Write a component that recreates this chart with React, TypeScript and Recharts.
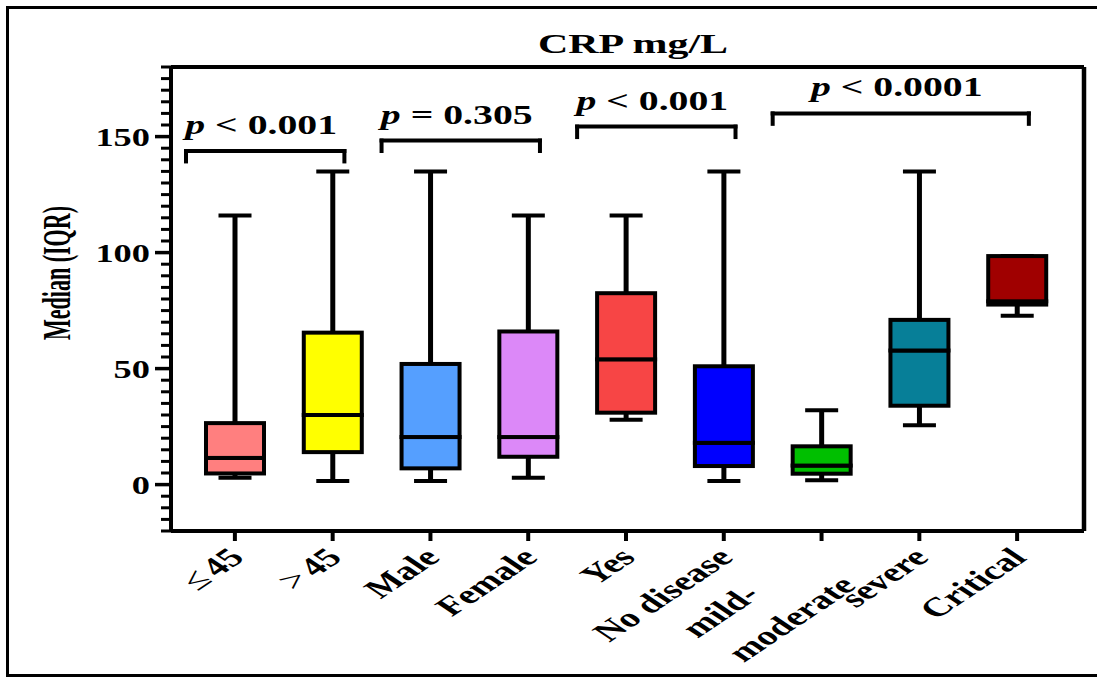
import React from 'react';
import { BarChart, Bar, XAxis, YAxis, ReferenceLine } from 'recharts';

const FONT = '"Liberation Serif", "Times New Roman", Times, serif';
const SX = 1.5;

// box plot values per group
const categories = ['≤45', '>45', 'Male', 'Female', 'Yes', 'No disease', 'mild-moderate', 'severe', 'Critical'];
const minValues = [3, 1.5, 1.5, 3, 28, 1.5, 1.9, 25.6, 72.8];
const q1Values = [4.8, 14, 7, 12, 31, 8, 4.7, 34, 77.6];
const medianValues = [11.5, 30, 20.5, 20.5, 54, 18, 8.2, 57.8, 79];
const q3Values = [26.5, 65.5, 52, 66, 82.5, 51, 16.5, 71, 98.5];
const maxValues = [116, 135, 135, 116, 116, 135, 32, 135, 98.5];
const boxColors = ['#FF7F7F', '#FFFF00', '#559FFF', '#DC88F8', '#F74545', '#0000FF', '#00BF00', '#077F98', '#A00000'];

const yTicks = [
	-20, -15, -10, -5, 0, 5, 10, 15, 20, 25, 30, 35, 40, 45, 50, 55, 60, 65, 70, 75, 80, 85, 90, 95, 100,
	105, 110, 115, 120, 125, 130, 135, 140, 145, 150, 155, 160, 165, 170, 175, 180,
];
const yMajorTicks = [0, 50, 100, 150];

// significance brackets (group positions are 1-based)
const pLabels = ['< 0.001', '= 0.305', '< 0.001', '< 0.0001'];
const pFrom = [1, 3, 5, 7];
const pTo = [2, 4, 6, 9];
const pLevels = [143.8, 148.3, 154.3, 160];

const data = categories.map((name, i) => ({
	name,
	pos: i + 1,
	base: minValues[i],
	lowWhisker: q1Values[i] - minValues[i],
	lowBox: medianValues[i] - q1Values[i],
	highBox: q3Values[i] - medianValues[i],
	highWhisker: maxValues[i] - q3Values[i],
}));

const BoxShape = (props: any) => {
	const { x, y, width, height, index } = props;
	return <rect x={x} y={y} width={width} height={height} fill={boxColors[index]} stroke='#000' strokeWidth={4} />;
};

const makeWhisker = (capAtTop: boolean) => (props: any) => {
	const { x, y, width, height } = props;
	const cx = x + width / 2;
	const capY = capAtTop ? y : y + height;
	return (
		<g>
			<line x1={cx} x2={cx} y1={y} y2={y + height} stroke='#000' strokeWidth={5} />
			<line x1={cx - 16.5} x2={cx + 16.5} y1={capY} y2={capY} stroke='#000' strokeWidth={4} />
		</g>
	);
};
const LowWhisker = makeWhisker(false);
const HighWhisker = makeWhisker(true);

const YTick = (props: any) => {
	const { x, y, payload } = props;
	const axisX = x + 15;
	const major = yMajorTicks.includes(payload.value);
	return (
		<g>
			<line x1={axisX - (major ? 16 : 10)} x2={axisX} y1={y} y2={y} stroke='#000' strokeWidth={major ? 3.5 : 3} />
			{major && (
				<text
					transform={`translate(${axisX - 21},${y + 9}) scale(1.4,1)`}
					textAnchor='end'
					fontFamily={FONT}
					fontSize={26}
					fontWeight='bold'
					fill='#000'
				>
					{payload.value}
				</text>
			)}
		</g>
	);
};

const XTick = (props: any) => {
	const { x, y, payload } = props;
	const value: string = payload.value;
	const fontProps = { fontFamily: FONT, fontSize: 26.5, fontWeight: 'bold', fill: '#000', textAnchor: 'end' as const };
	if (value.includes('-')) {
		const [a, b] = value.split('-');
		return (
			<g>
				<text transform={`translate(${x - 60},${y + 53}) scale(${SX},1) rotate(-45)`} {...fontProps}>
					{a + '-'}
				</text>
				<text transform={`translate(${x + 36},${y + 44}) scale(${SX},1) rotate(-45)`} {...fontProps}>
					{b}
				</text>
			</g>
		);
	}
	const sym = /^[≤>]/.test(value) ? value[0] : null;
	return (
		<text transform={`translate(${x + 11},${y + 16}) scale(${SX},1) rotate(-45)`} {...fontProps}>
			{sym ? (
				<>
					<tspan fontWeight='normal' fontSize={28}>{sym}</tspan>
					<tspan dx={4}>{value.slice(1)}</tspan>
				</>
			) : (
				value
			)}
		</text>
	);
};

const TitleLabel = () => (
	<text
		transform={`translate(633,53) scale(${SX},1)`}
		textAnchor='middle'
		fontFamily={FONT}
		fontSize={28}
		fontWeight='bold'
		fill='#000'
	>
		CRP mg/L
	</text>
);

const YLabel = () => (
	<text
		transform={`translate(70,273) scale(${SX},1) rotate(-90)`}
		textAnchor='middle'
		fontFamily={FONT}
		fontSize={27}
		fontWeight='bold'
		fill='#000'
		textLength={134}
		lengthAdjust='spacingAndGlyphs'
	>
		Median (IQR)
	</text>
);

const makePLabel = (text: string) => (props: any) => {
	const vb = props.viewBox || {};
	const cx = vb.x + vb.width / 2 - 4;
	return (
		<text
			transform={`translate(${cx},${vb.y - 17}) scale(${SX},1)`}
			textAnchor='middle'
			fontFamily={FONT}
			fontSize={26.5}
			fontWeight='bold'
			fill='#000'
		>
			<tspan fontStyle='italic'>p</tspan>
			{' ' + text}
		</text>
	);
};

const bracketLines = pLabels.flatMap((label, i) => {
	const left = pFrom[i] - 0.5;
	const right = pTo[i] + 0.12;
	const level = pLevels[i];
	const drop = 4.5;
	const common = {
		xAxisId: 'num',
		stroke: '#000',
		strokeWidth: 4,
		strokeLinecap: 'square' as const,
		ifOverflow: 'visible' as const,
	};
	return [
		<ReferenceLine
			key={`h-${i}`}
			{...common}
			segment={[
				{ x: left, y: level },
				{ x: right, y: level },
			]}
			label={{ content: makePLabel(label) }}
		/>,
		<ReferenceLine
			key={`l-${i}`}
			{...common}
			segment={[
				{ x: left, y: level },
				{ x: left, y: level - drop },
			]}
		/>,
		<ReferenceLine
			key={`r-${i}`}
			{...common}
			segment={[
				{ x: right, y: level },
				{ x: right, y: level - drop },
			]}
		/>,
	];
});

export default function App() {
	return (
		<div style={{ position: 'absolute', left: 0, top: 0, width: 1097, height: 677, background: '#fff', overflow: 'hidden' }}>
			<BarChart width={1097} height={677} data={data} margin={{ top: 66, right: 12, bottom: 6, left: 71 }}>
				<XAxis
					dataKey='name'
					type='category'
					interval={0}
					padding={{ left: 15, right: 18 }}
					height={140}
					tickSize={10}
					tickMargin={2}
					tickLine={{ stroke: '#000', strokeWidth: 4 }}
					axisLine={{ stroke: '#000', strokeWidth: 4 }}
					tick={<XTick />}
				/>
				<XAxis
					xAxisId='num'
					orientation='top'
					type='number'
					dataKey='pos'
					domain={[0.5, 9.5]}
					padding={{ left: 15, right: 18 }}
					allowDataOverflow
					height={1}
					tick={false}
					tickLine={false}
					axisLine={{ stroke: '#000', strokeWidth: 4 }}
					label={{ content: TitleLabel }}
				/>
				<YAxis
					type='number'
					domain={[-20, 180]}
					ticks={yTicks}
					interval={0}
					allowDataOverflow
					width={100}
					tickSize={15}
					tickMargin={0}
					tickLine={false}
					tick={<YTick />}
					axisLine={{ stroke: '#000', strokeWidth: 4 }}
					label={{ content: YLabel }}
				/>
				<YAxis
					yAxisId='right'
					orientation='right'
					type='number'
					domain={[-20, 180]}
					width={1}
					tick={false}
					tickLine={false}
					axisLine={{ stroke: '#000', strokeWidth: 4.5 }}
				/>
				<Bar dataKey='base' stackId='box' barSize={58} fill='transparent' isAnimationActive={false} />
				<Bar dataKey='lowWhisker' stackId='box' barSize={58} shape={LowWhisker} isAnimationActive={false} />
				<Bar dataKey='lowBox' stackId='box' barSize={58} shape={BoxShape} isAnimationActive={false} />
				<Bar dataKey='highBox' stackId='box' barSize={58} shape={BoxShape} isAnimationActive={false} />
				<Bar dataKey='highWhisker' stackId='box' barSize={58} shape={HighWhisker} isAnimationActive={false} />
				{bracketLines}
			</BarChart>
			<div
				style={{
					position: 'absolute',
					left: 6,
					top: 6,
					width: 1091,
					height: 665,
					borderLeft: '3px solid #000',
					borderTop: '3px solid #000',
					borderBottom: '3px solid #000',
					pointerEvents: 'none',
				}}
			/>
		</div>
	);
}
